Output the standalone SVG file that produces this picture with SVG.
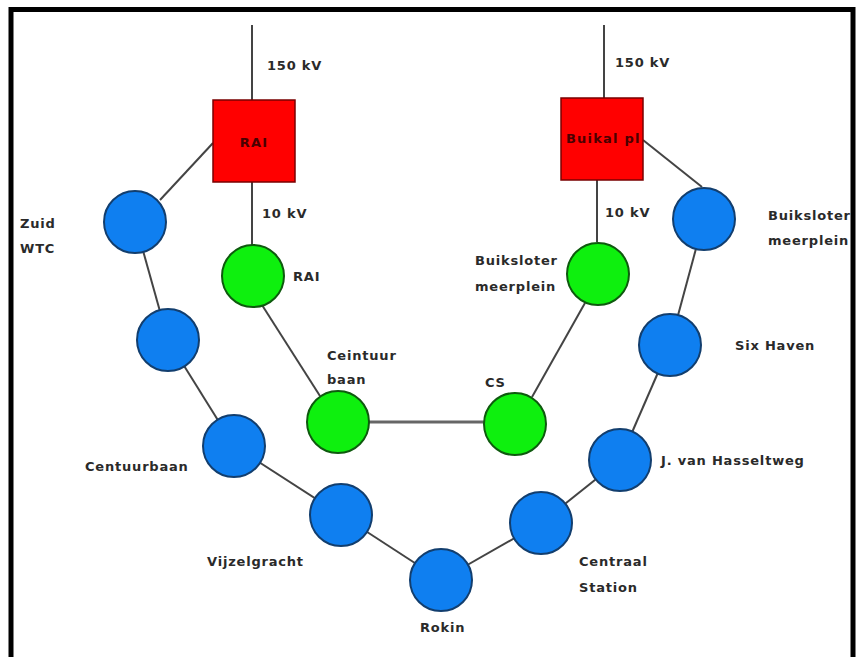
<svg xmlns="http://www.w3.org/2000/svg" width="856" height="657" viewBox="0 0 856 657">
<style>
.lbl{font-family:"DejaVu Sans",sans-serif;font-size:13px;font-weight:bold;fill:#2a2a2a;letter-spacing:0.8px}
.in{font-family:"DejaVu Sans",sans-serif;font-size:13px;font-weight:bold;fill:#4a0000;letter-spacing:1.2px}
.blue{fill:#0f7ff0;stroke:#123e6e;stroke-width:2}
.green{fill:#0ef00e;stroke:#0e5a0e;stroke-width:2}
.sq{fill:#ff0000;stroke:#7a0000;stroke-width:1.5}
.ln{stroke:#444;stroke-width:2;fill:none}
</style>
<rect x="0" y="0" width="856" height="657" fill="#fff"/>
<g id="connectors">
<line class="ln" x1="252" y1="25" x2="252" y2="100"/>
<line class="ln" x1="252" y1="182" x2="252" y2="245"/>
<line class="ln" x1="604" y1="25" x2="604" y2="98"/>
<line class="ln" x1="597" y1="180" x2="597" y2="242"/>
<line class="ln" x1="213" y1="143" x2="160" y2="200"/>
<line class="ln" x1="643" y1="140" x2="702" y2="187"/>
<line class="ln" x1="262" y1="305" x2="320" y2="396"/>
<line class="ln" x1="585" y1="303" x2="532" y2="397"/>
<line x1="369" y1="422" x2="484" y2="422" stroke="#666" stroke-width="3"/>
<line class="ln" x1="135" y1="222" x2="168" y2="340"/>
<line class="ln" x1="168" y1="340" x2="234" y2="446"/>
<line class="ln" x1="234" y1="446" x2="341" y2="515"/>
<line class="ln" x1="341" y1="515" x2="441" y2="580"/>
<line class="ln" x1="441" y1="580" x2="541" y2="523"/>
<line class="ln" x1="541" y1="523" x2="620" y2="460"/>
<line class="ln" x1="620" y1="460" x2="670" y2="345"/>
<line class="ln" x1="670" y1="345" x2="704" y2="219"/>
</g>
<g id="sub-rai">
<rect class="sq" x="213" y="100" width="82" height="82"/>
<text class="in" x="254" y="147" text-anchor="middle">RAI</text>
</g>
<g id="sub-buikal">
<rect class="sq" x="561" y="98" width="82" height="82"/>
<text class="in" x="566" y="143">Buikal pl</text>
</g>
<g id="g-rai"><circle class="green" cx="253" cy="276" r="31"/><text class="lbl" x="293" y="281">RAI</text></g>
<g id="g-buiksloter"><circle class="green" cx="598" cy="274" r="31"/><text class="lbl" x="475" y="265">Buiksloter</text><text class="lbl" x="475" y="291">meerplein</text></g>
<g id="g-ceintuur"><circle class="green" cx="338" cy="422" r="31"/><text class="lbl" x="327" y="360">Ceintuur</text><text class="lbl" x="327" y="384">baan</text></g>
<g id="g-cs"><circle class="green" cx="515" cy="424" r="31"/><text class="lbl" x="485" y="387">CS</text></g>
<g id="b-zuid"><circle class="blue" cx="135" cy="222" r="31"/><text class="lbl" x="20" y="228">Zuid</text><text class="lbl" x="20" y="253">WTC</text></g>
<g id="b-2"><circle class="blue" cx="168" cy="340" r="31"/></g>
<g id="b-centuurbaan"><circle class="blue" cx="234" cy="446" r="31"/><text class="lbl" x="85" y="471">Centuurbaan</text></g>
<g id="b-vijzelgracht"><circle class="blue" cx="341" cy="515" r="31"/><text class="lbl" x="207" y="566">Vijzelgracht</text></g>
<g id="b-rokin"><circle class="blue" cx="441" cy="580" r="31"/><text class="lbl" x="420" y="632">Rokin</text></g>
<g id="b-centraal"><circle class="blue" cx="541" cy="523" r="31"/><text class="lbl" x="579" y="566">Centraal</text><text class="lbl" x="579" y="592">Station</text></g>
<g id="b-hasselt"><circle class="blue" cx="620" cy="460" r="31"/><text class="lbl" x="661" y="465">J. van Hasseltweg</text></g>
<g id="b-six"><circle class="blue" cx="670" cy="345" r="31"/><text class="lbl" x="735" y="350">Six Haven</text></g>
<g id="b-buiksloter"><circle class="blue" cx="704" cy="219" r="31"/><text class="lbl" x="768" y="220">Buiksloter</text><text class="lbl" x="768" y="245">meerplein</text></g>
<g id="voltages">
<text class="lbl" x="267" y="70">150 kV</text>
<text class="lbl" x="262" y="218">10 kV</text>
<text class="lbl" x="615" y="67">150 kV</text>
<text class="lbl" x="605" y="217">10 kV</text>
</g>
<rect x="11" y="9.5" width="842" height="670" fill="none" stroke="#000" stroke-width="5"/>
</svg>
